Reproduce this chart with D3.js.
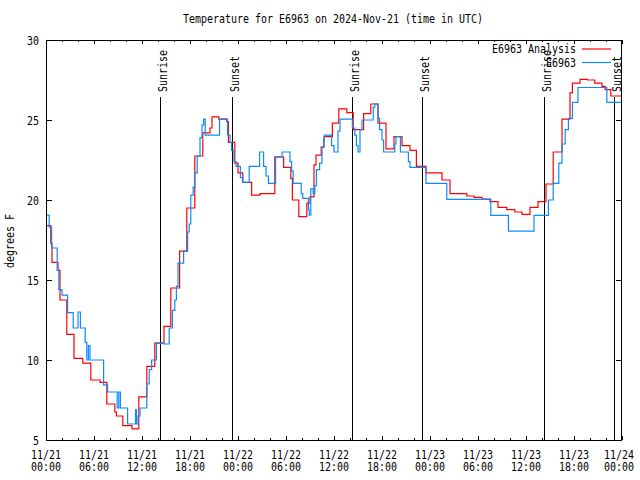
<!DOCTYPE html>
<html>
<head>
<meta charset="utf-8">
<script src="https://cdn.jsdelivr.net/npm/d3@7"></script>
<style>
  html, body { margin: 0; padding: 0; background: #fff; }
  svg text { font-family: "DejaVu Sans Mono", "Liberation Mono", monospace; font-size: 12px; fill: #000; }
</style>
</head>
<body>
<svg id="chart" width="640" height="480"></svg>
<script>
// ---- data (hours since 2024-11-21 00:00 UTC, step values in degrees F) ----
const analysisHours = [0, 0.6, 0.75, 1.5, 1.75, 2.6, 3.5, 4.6, 5.6, 6.75, 7.6, 8.6, 8.8, 9.6, 10.75, 11.6, 12.6, 13.6, 14.75, 15.6, 16.7, 17.6, 18.6, 19.6, 20.5, 20.75, 21.6, 22.6, 22.8, 23.6, 24.0, 24.6, 25.7, 26.75, 28.6, 29.7, 30.6, 30.8, 31.6, 32.6, 33.0, 33.5, 33.75, 34.4, 34.75, 35.8, 36.6, 37.6, 38.4, 39.7, 40.6, 41.5, 42.5, 43.5, 44.5, 45.5, 46.3, 47.5, 49.5, 50.5, 52.6, 53.5, 54.5, 55.5, 56.5, 57.6, 58.6, 59.5, 60.5, 61.5, 62.5, 63.4, 64.5, 65.5, 65.8, 66.75, 67.7, 68.6, 69.5, 69.9, 70.6, 72];
const analysisTemps = [18.4, 17.3, 16.1, 15.6, 13.75, 11.6, 10.1, 9.8, 8.75, 8.6, 7.25, 6.75, 6.5, 5.9, 5.7, 7.7, 9.6, 11.06, 12.1, 14.5, 16.8, 19.5, 22.75, 24.2, 24.5, 25.2, 25.05, 24.9, 23.6, 22.3, 21.7, 21.1, 20.3, 20.4, 22.7, 22.04, 21.35, 20.0, 18.96, 19.8, 20.2, 22.2, 22.8, 23.3, 23.96, 24.8, 25.7, 25.46, 24.4, 25.4, 26.0, 24.8, 23.2, 23.96, 23.4, 23.1, 22.1, 21.7, 21.25, 20.4, 20.25, 20.17, 20.06, 19.9, 19.54, 19.4, 19.25, 19.1, 19.54, 19.9, 21.0, 23.0, 25.05, 26.7, 27.3, 27.54, 27.5, 27.3, 27.1, 26.9, 26.5, 26.5];

const obsHours = [0, 0.4, 0.7, 1.4, 1.6, 2.0, 2.7, 3.4, 4.0, 4.3, 4.9, 5.1, 5.3, 5.5, 7.2, 7.7, 8.9, 9.1, 9.3, 10.2, 11.2, 11.3, 11.5, 11.75, 12.6, 12.9, 13.2, 13.8, 14.7, 15.4, 15.8, 16.1, 16.3, 16.5, 17.2, 17.7, 17.9, 18.1, 18.4, 18.6, 18.9, 19.25, 19.5, 19.7, 19.9, 21.7, 22.7, 23.0, 23.2, 23.5, 23.75, 24.3, 24.6, 25.4, 26.7, 27.2, 27.5, 27.8, 28.7, 29.5, 30.5, 30.7, 30.9, 31.9, 32.1, 32.8, 32.9, 33.1, 33.4, 33.6, 33.8, 34.2, 34.5, 34.7, 34.8, 35.7, 36.0, 36.5, 36.75, 38.3, 38.6, 38.8, 39.0, 39.25, 39.5, 40.9, 41.1, 41.5, 41.7, 42.0, 42.2, 43.6, 43.75, 44.3, 45.3, 45.5, 47.5, 50.1, 55.6, 57.8, 61.0, 62.8, 63.4, 64.1, 64.5, 64.9, 65.3, 65.8, 66.5, 70.1, 72];
const obsTemps = [19.06, 18.3, 17.0, 15.6, 14.4, 14.06, 12.96, 12.0, 13.0, 12.0, 11.1, 10.0, 10.9, 10.0, 8.44, 8.0, 7.0, 8.0, 7.0, 6.0, 6.9, 6.0, 6.5, 7.0, 8.5, 9.4, 10.0, 11.06, 11.0, 12.0, 13.1, 13.75, 14.6, 16.06, 16.8, 18.0, 18.5, 20.3, 20.8, 21.7, 22.75, 23.9, 24.7, 25.05, 24.06, 25.05, 24.06, 23.6, 23.1, 22.4, 22.1, 21.4, 21.1, 22.1, 23.0, 22.1, 21.5, 21.04, 22.7, 23.0, 22.4, 21.8, 21.04, 20.4, 20.1, 19.4, 19.06, 20.7, 20.4, 20.9, 21.9, 22.3, 23.3, 23.75, 24.06, 23.4, 23.0, 24.3, 25.05, 24.5, 24.06, 23.4, 23.0, 24.4, 25.0, 25.8, 26.0, 25.1, 24.4, 23.75, 23.0, 23.5, 23.96, 23.0, 22.4, 22.04, 21.04, 20.04, 19.04, 18.06, 19.04, 20.0, 21.04, 22.3, 23.5, 24.4, 25.1, 26.1, 27.03, 26.1, 26.1];

const seriesNames = ["E6963 Analysis", "E6963"];
const xMajorHours = [0, 6, 12, 18, 24, 30, 36, 42, 48, 54, 60, 66, 72];
const xDateLabels = ["11/21", "11/21", "11/21", "11/21", "11/22", "11/22", "11/22", "11/22", "11/23", "11/23", "11/23", "11/23", "11/24"];
const xTimeLabels = ["00:00", "06:00", "12:00", "18:00", "00:00", "06:00", "12:00", "18:00", "00:00", "06:00", "12:00", "18:00", "00:00"];
const xMinorHours = d3.range(0, 73, 2);
const yTickValues = [5, 10, 15, 20, 25, 30];
const sunHours = [14.25, 23.25, 38.25, 47, 62.25, 71];
const sunLabels = ["Sunrise", "Sunset", "Sunrise", "Sunset", "Sunrise", "Sunset"];
const titleText = "Temperature for E6963 on 2024-Nov-21 (time in UTC)";
const yAxisLabel = "degrees F";

// ---- layout ----
const L = 46, R = 622, T = 40, B = 440;
const CW = 6; // char advance
const svg = d3.select("#chart");
const x = d3.scaleLinear().domain([0, 72]).range([L, R]);
const y = d3.scaleLinear().domain([5, 30]).range([B, T]);

function fitText(sel, s) {
  return sel.text(s).attr("textLength", s.length * CW).attr("lengthAdjust", "spacingAndGlyphs");
}

// title
fitText(svg.append("text").attr("x", 333).attr("y", 23).attr("text-anchor", "middle"), titleText);

// axes (ticks inward)
function styleAxis(g) {
  g.select(".domain").remove();
  g.selectAll("line").attr("stroke", "#000").attr("shape-rendering", "crispEdges");
  g.selectAll("text").remove();
}
svg.append("g").attr("transform", `translate(0,${B})`)
  .call(d3.axisBottom(x).tickValues(xMinorHours).tickSize(-2)).call(styleAxis);
svg.append("g").attr("transform", `translate(0,${B})`)
  .call(d3.axisBottom(x).tickValues(xMajorHours).tickSize(-4)).call(styleAxis);
svg.append("g").attr("transform", `translate(0,${T})`)
  .call(d3.axisTop(x).tickValues(xMinorHours).tickSize(-2)).call(styleAxis);
svg.append("g").attr("transform", `translate(0,${T})`)
  .call(d3.axisTop(x).tickValues(xMajorHours).tickSize(-4)).call(styleAxis);
svg.append("g").attr("transform", `translate(${L},0)`)
  .call(d3.axisLeft(y).tickValues(yTickValues).tickSize(-6)).call(styleAxis);
svg.append("g").attr("transform", `translate(${R},0)`)
  .call(d3.axisRight(y).tickValues(yTickValues).tickSize(-6)).call(styleAxis);

// tick labels
xMajorHours.forEach((h, i) => {
  const last = i === xMajorHours.length - 1;
  const lx = last ? 634 : x(h);
  const anchor = last ? "end" : "middle";
  fitText(svg.append("text").attr("x", lx).attr("y", 458.5).attr("text-anchor", anchor), xDateLabels[i]);
  fitText(svg.append("text").attr("x", lx).attr("y", 471).attr("text-anchor", anchor), xTimeLabels[i]);
});
yTickValues.forEach(v => {
  const s = String(v);
  fitText(svg.append("text").attr("x", 39).attr("y", y(v) + 4.5).attr("text-anchor", "end"), s);
});

// y label
fitText(svg.append("text").attr("transform", "translate(14,241) rotate(-90)").attr("text-anchor", "middle"), yAxisLabel);

// sunrise / sunset markers
sunHours.forEach((h, i) => {
  const px = Math.round(x(h)) + 0.5;
  svg.append("line").attr("x1", px).attr("x2", px).attr("y1", 97).attr("y2", B)
    .attr("stroke", "#000").attr("stroke-width", 1);
  fitText(svg.append("text").attr("transform", `translate(${px + 6.5},92) rotate(-90)`).attr("text-anchor", "start"), sunLabels[i]);
});

// series
const line = d3.line().x(d => x(d[0])).y(d => y(d[1])).curve(d3.curveStepAfter);
const analysis = analysisHours.map((h, i) => [h, analysisTemps[i]]);
const obs = obsHours.map((h, i) => [h, obsTemps[i]]);
const colors = ["#ff0000", "#0a8cff"];
svg.append("path").datum(analysis).attr("d", line).attr("fill", "none").attr("stroke", colors[0]).attr("stroke-width", 1.2);
svg.append("path").datum(obs).attr("d", line).attr("fill", "none").attr("stroke", colors[1]).attr("stroke-width", 1.2);

// legend
[0, 1].forEach(i => {
  const ly = 49 + i * 13.5;
  fitText(svg.append("text").attr("x", 576).attr("y", ly + 4).attr("text-anchor", "end"), seriesNames[i]);
  svg.append("line").attr("x1", 582).attr("x2", 611).attr("y1", ly).attr("y2", ly)
    .attr("stroke", colors[i]).attr("stroke-width", 1.2);
});

// frame
svg.append("rect").attr("x", L + 0.5).attr("y", T + 0.5).attr("width", R - L - 1).attr("height", B - T)
  .attr("fill", "none").attr("stroke", "#000").attr("stroke-width", 1).attr("shape-rendering", "crispEdges");
</script>
</body>
</html>
